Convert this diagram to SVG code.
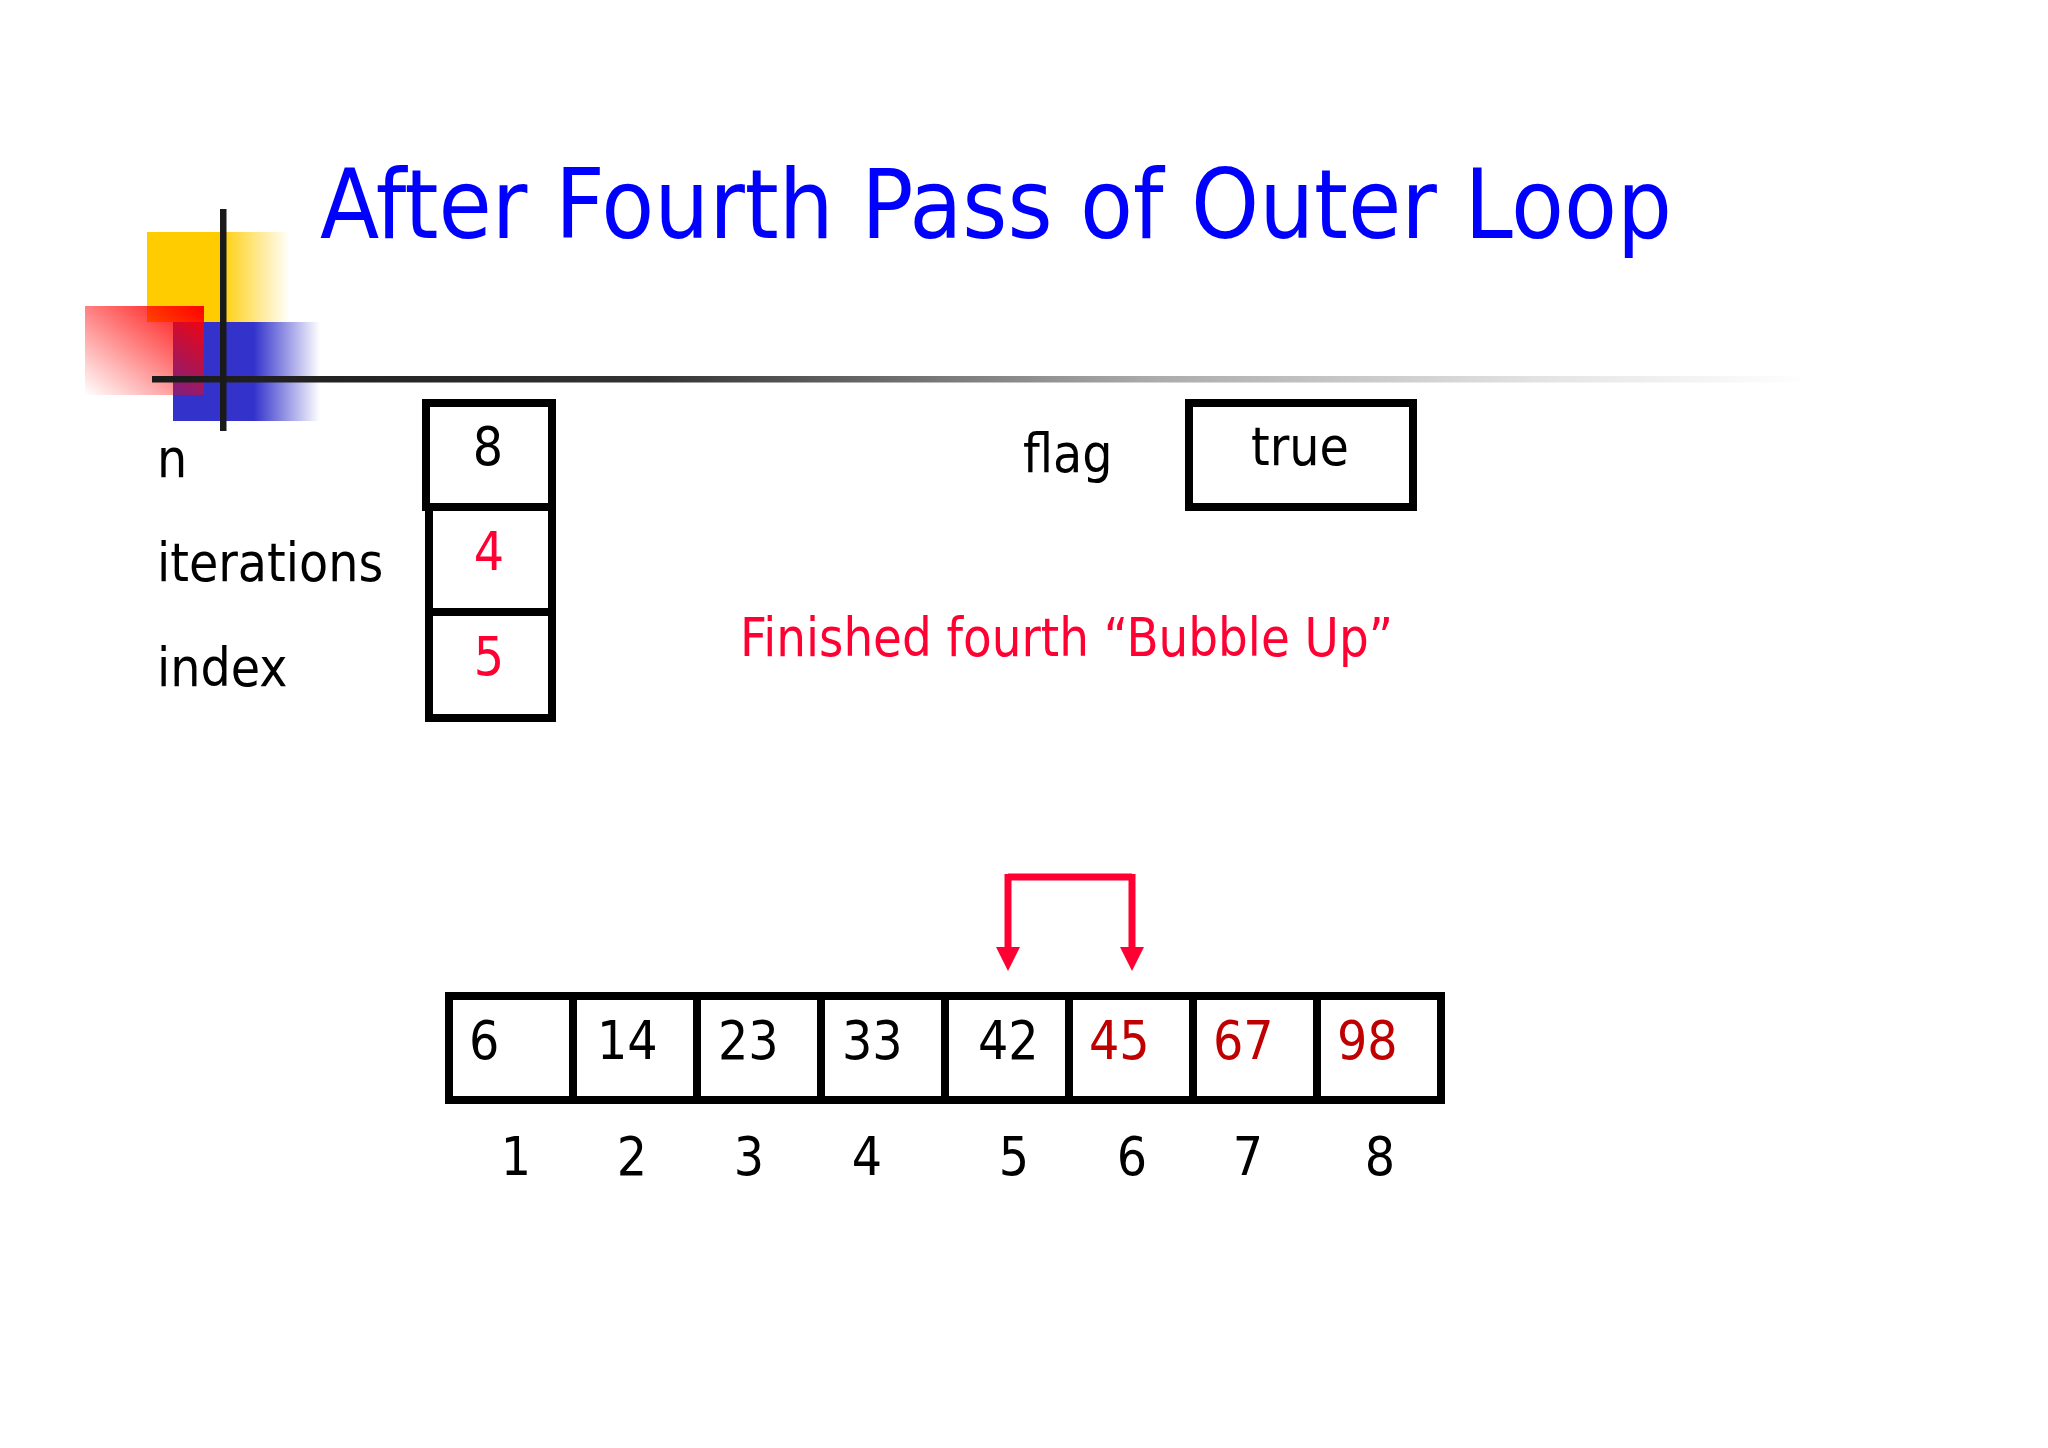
<svg xmlns="http://www.w3.org/2000/svg" width="2048" height="1448" viewBox="0 0 2048 1448">
<defs>
<style>
text{font-family:"DejaVu Sans Condensed","DejaVu Sans","Liberation Sans",sans-serif;font-stretch:condensed}
.lbl{font-size:53px;fill:#000}
.red{fill:#FF0033}
.dred{fill:#C00000}
.box{fill:#fff;stroke:#000;stroke-width:8}
.mid{text-anchor:middle}
.arr{fill:none;stroke:#FF0033;stroke-width:7}
</style>
<linearGradient id="gy" x1="0" y1="0" x2="1" y2="0">
<stop offset="0" stop-color="#FFCC00"/><stop offset="0.5" stop-color="#FFCC00"/><stop offset="1" stop-color="#FFCC00" stop-opacity="0"/>
</linearGradient>
<linearGradient id="gb" x1="0" y1="0" x2="1" y2="0">
<stop offset="0" stop-color="#3333CC"/><stop offset="0.55" stop-color="#3333CC"/><stop offset="1" stop-color="#3333CC" stop-opacity="0"/>
</linearGradient>
<linearGradient id="gr" x1="1" y1="0" x2="0" y2="1">
<stop offset="0" stop-color="#FF0000"/><stop offset="1" stop-color="#FF0000" stop-opacity="0"/>
</linearGradient>
<linearGradient id="gl" x1="0" y1="0" x2="1" y2="0">
<stop offset="0" stop-color="#1a1a1a"/><stop offset="0.3" stop-color="#333"/><stop offset="0.6" stop-color="#aaa"/><stop offset="0.85" stop-color="#e6e6e6"/><stop offset="1" stop-color="#fff"/>
</linearGradient>
<marker id="ah" markerWidth="24" markerHeight="24" viewBox="0 0 24 24" refX="1" refY="12" orient="auto" markerUnits="userSpaceOnUse">
<path d="M0,0 L24,12 L0,24 Z" fill="#FF0033"/>
</marker>
</defs>
<rect width="2048" height="1448" fill="#fff"/>
<g id="logo">
<rect x="147" y="232" width="143" height="90" fill="url(#gy)"/>
<rect x="173" y="322" width="147" height="99" fill="url(#gb)"/>
<rect x="85" y="306" width="119" height="89" fill="url(#gr)"/>
<rect x="152" y="376" width="1658" height="6.5" fill="url(#gl)"/>
<rect x="220" y="209" width="6.5" height="222" fill="#1a1a1a"/>
</g>
<g id="title">
<text x="320" y="238" font-size="96" fill="#0000FF" textLength="1352" lengthAdjust="spacingAndGlyphs">After Fourth Pass of Outer Loop</text>
</g>
<g id="var-n">
<text class="lbl" x="157" y="477">n</text>
<rect class="box" x="426" y="403" width="126" height="104"/>
<text class="lbl mid" x="488" y="465">8</text>
</g>
<g id="var-iterations">
<text class="lbl" x="157" y="581">iterations</text>
<rect class="box" x="429" y="507" width="123" height="105"/>
<text class="lbl mid red" x="489" y="570">4</text>
</g>
<g id="var-index">
<text class="lbl" x="157" y="686">index</text>
<rect class="box" x="429" y="612" width="123" height="106"/>
<text class="lbl mid red" x="489" y="675">5</text>
</g>
<g id="var-flag">
<text class="lbl" x="1023" y="472">flag</text>
<rect class="box" x="1189" y="403" width="224" height="104"/>
<text class="lbl mid" x="1300" y="465">true</text>
</g>
<g id="message">
<text class="lbl red" x="740" y="656" textLength="653" lengthAdjust="spacingAndGlyphs">Finished fourth “Bubble Up”</text>
</g>
<g id="array">
<rect class="box" x="449" y="996" width="992" height="104"/>
<path d="M573,996V1100M697,996V1100M821,996V1100M945,996V1100M1069,996V1100M1193,996V1100M1317,996V1100" stroke="#000" stroke-width="8"/>
<text class="lbl" x="469" y="1059">6</text>
<text class="lbl" x="597" y="1059">14</text>
<text class="lbl" x="718" y="1059">23</text>
<text class="lbl" x="842" y="1059">33</text>
<text class="lbl" x="978" y="1059">42</text>
<text class="lbl dred" x="1089" y="1059">45</text>
<text class="lbl dred" x="1213" y="1059">67</text>
<text class="lbl dred" x="1337" y="1059">98</text>
</g>
<g id="indices">
<text class="lbl mid" x="516" y="1175">1</text>
<text class="lbl mid" x="632" y="1175">2</text>
<text class="lbl mid" x="749" y="1175">3</text>
<text class="lbl mid" x="867" y="1175">4</text>
<text class="lbl mid" x="1014" y="1175">5</text>
<text class="lbl mid" x="1132" y="1175">6</text>
<text class="lbl mid" x="1248" y="1175">7</text>
<text class="lbl mid" x="1380" y="1175">8</text>
</g>
<g id="connectors">
<path class="arr" d="M1008,877H1132"/>
<path class="arr" d="M1008,874V948" marker-end="url(#ah)"/>
<path class="arr" d="M1132,874V948" marker-end="url(#ah)"/>
</g>
</svg>
